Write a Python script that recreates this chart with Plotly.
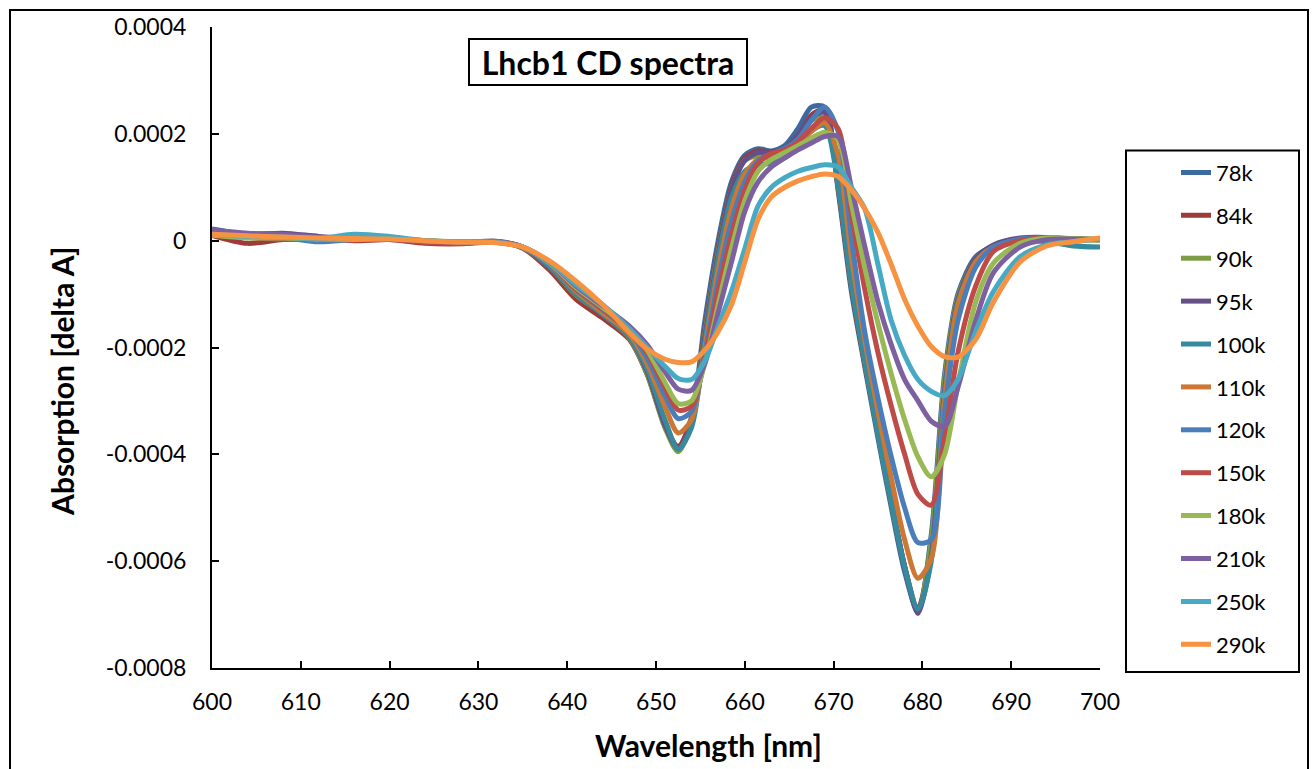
import plotly.graph_objects as go

# Wavelength grid (nm)
wavelength = [600, 604, 608, 612, 616, 620, 624, 628, 632, 635, 638, 641, 644, 647, 649, 651,
              652.5, 654, 655.5, 657, 658.5, 660, 661.5, 663, 664.5, 666, 667.5, 669, 670.5,
              672, 673.5, 675, 676.5, 678, 679.5, 681, 682.5, 684, 686, 688, 691, 694, 697, 700]

# CD signal values in units of 1e-4 (delta A)
s78k = [0.22, 0.12, 0.12, 0.05, 0.04, 0.03, -0.03, -0.03, -0.02, -0.12, -0.5, -1.05, -1.4, -1.8, -2.45, -3.45,
        -3.88, -3.3, -1.5, 0.0, 1.1, 1.6, 1.72, 1.68, 1.78, 2.1, 2.5, 2.5, 0.95,
        -0.95, -2.35, -3.7, -5.0, -6.2, -6.95, -5.5, -2.5, -1.0, -0.3, -0.1, 0.03, 0.05, 0.03, 0.02]
s84k = [0.1, -0.05, 0.02, 0.03, 0.0, 0.02, -0.05, -0.06, -0.02, -0.14, -0.55, -1.1, -1.45, -1.85, -2.5, -3.45,
        -3.85, -3.35, -1.7, -0.15, 1.0, 1.55, 1.68, 1.66, 1.72, 1.95, 2.35, 2.45, 1.0,
        -0.85, -2.3, -3.6, -4.9, -6.1, -6.88, -5.7, -2.7, -1.05, -0.35, -0.1, 0.02, 0.04, 0.02, 0.02]
s90k = [0.15, 0.08, 0.05, 0.04, 0.02, 0.04, 0.0, -0.03, -0.03, -0.13, -0.5, -1.02, -1.38, -1.82, -2.5, -3.5,
        -3.95, -3.4, -1.75, -0.2, 0.95, 1.5, 1.6, 1.62, 1.72, 1.95, 2.25, 2.3, 1.05,
        -0.8, -2.25, -3.6, -4.9, -6.1, -6.92, -5.6, -2.6, -1.05, -0.35, -0.1, 0.03, 0.04, 0.02, 0.01]
s95k = [0.18, 0.12, 0.14, 0.08, 0.04, 0.03, -0.02, -0.04, -0.01, -0.12, -0.5, -1.0, -1.38, -1.8, -2.45, -3.45,
        -3.9, -3.42, -1.8, -0.25, 0.95, 1.5, 1.65, 1.64, 1.72, 1.98, 2.3, 2.4, 1.1,
        -0.75, -2.2, -3.55, -4.85, -6.1, -6.98, -5.9, -2.8, -1.1, -0.35, -0.08, 0.05, 0.06, 0.03, 0.02]
s100k = [0.16, 0.1, 0.08, 0.05, 0.03, 0.04, -0.02, -0.03, -0.02, -0.12, -0.48, -1.0, -1.38, -1.8, -2.4, -3.35,
         -3.9, -3.5, -1.9, -0.35, 0.8, 1.3, 1.42, 1.45, 1.55, 1.75, 2.05, 2.15, 1.05,
         -0.8, -2.25, -3.6, -4.9, -6.1, -6.9, -6.0, -2.9, -1.15, -0.4, -0.12, 0.0, -0.02, -0.1, -0.12]
s110k = [0.14, 0.1, 0.06, 0.05, 0.02, 0.03, -0.01, -0.03, -0.02, -0.12, -0.45, -0.95, -1.35, -1.75, -2.3, -3.1,
         -3.6, -3.35, -2.0, -0.55, 0.6, 1.25, 1.52, 1.56, 1.65, 1.82, 2.05, 2.2, 1.6,
         -0.3, -1.85, -3.2, -4.45, -5.6, -6.32, -5.95, -3.0, -1.2, -0.4, -0.12, 0.02, 0.04, 0.03, 0.02]
s120k = [0.12, 0.08, 0.06, -0.02, 0.02, 0.03, -0.01, -0.04, -0.03, -0.12, -0.45, -0.92, -1.3, -1.7, -2.2, -2.9,
         -3.33, -3.2, -2.1, -0.75, 0.35, 1.1, 1.5, 1.63, 1.72, 1.9, 2.25, 2.5, 2.05,
         0.05, -1.7, -2.95, -4.05, -5.0, -5.65, -5.6, -3.2, -1.5, -0.5, -0.12, 0.03, 0.05, 0.03, 0.02]
s150k = [0.1, 0.06, 0.03, 0.04, 0.01, 0.02, -0.03, -0.05, -0.03, -0.12, -0.42, -0.9, -1.28, -1.68, -2.1, -2.75,
         -3.17, -3.1, -2.2, -0.95, 0.1, 0.95, 1.45, 1.63, 1.7, 1.85, 2.1, 2.3, 2.1,
         0.5, -0.9, -2.1, -3.1, -4.0, -4.75, -4.95, -3.7, -2.1, -0.85, -0.2, 0.0, 0.05, 0.03, 0.02]
s180k = [0.1, 0.05, 0.05, 0.03, 0.02, 0.04, 0.0, -0.02, -0.03, -0.12, -0.42, -0.88, -1.25, -1.65, -2.05, -2.65,
         -3.05, -3.0, -2.3, -1.2, -0.15, 0.75, 1.3, 1.52, 1.65, 1.78, 1.92, 2.03, 1.9,
         0.7, -0.5, -1.55, -2.5, -3.35, -4.05, -4.42, -4.0, -2.7, -1.15, -0.42, -0.05, 0.05, 0.04, 0.03]
s210k = [0.2, 0.14, 0.12, 0.06, 0.05, 0.03, 0.0, -0.03, -0.02, -0.12, -0.4, -0.85, -1.22, -1.6, -1.95, -2.45,
         -2.78, -2.8, -2.3, -1.35, -0.4, 0.55, 1.1, 1.38, 1.55, 1.7, 1.83, 1.95, 1.95,
         1.0, -0.1, -1.15, -1.95, -2.6, -3.0, -3.38, -3.48, -2.75, -1.5, -0.6, -0.12, 0.02, 0.03, 0.02]
s250k = [0.12, 0.08, 0.07, 0.04, 0.12, 0.08, 0.0, -0.02, -0.03, -0.12, -0.4, -0.82, -1.2, -1.65, -2.0, -2.35,
         -2.58, -2.6, -2.25, -1.6, -0.95, -0.15, 0.65, 1.0, 1.18, 1.3, 1.37, 1.42, 1.38,
         1.0, 0.6, -0.45, -1.5, -2.15, -2.6, -2.82, -2.9, -2.6, -1.7, -0.95, -0.3, -0.08, -0.02, 0.03]
s290k = [0.12, 0.09, 0.07, 0.05, 0.04, 0.03, 0.0, -0.03, -0.04, -0.12, -0.38, -0.76, -1.2, -1.72, -2.03, -2.22,
         -2.28, -2.27, -2.05, -1.7, -1.2, -0.4, 0.4, 0.82, 1.0, 1.12, 1.2, 1.25, 1.2,
         0.95, 0.6, 0.15, -0.45, -1.1, -1.6, -1.98, -2.17, -2.18, -1.85, -1.15, -0.4, -0.1, -0.02, 0.05]

series_names = ["78k", "84k", "90k", "95k", "100k", "110k", "120k", "150k", "180k", "210k", "250k", "290k"]
series_values = [s78k, s84k, s90k, s95k, s100k, s110k, s120k, s150k, s180k, s210k, s250k, s290k]
series_colors = ["#3C699E", "#9E3B38", "#7E9B45", "#654F87", "#358A9E", "#CD7734",
                 "#4A7EBB", "#BE4B48", "#98B954", "#7D60A0", "#46AAC5", "#F69240"]

y_tickvals = [0.0004, 0.0002, 0, -0.0002, -0.0004, -0.0006, -0.0008]
y_ticktext = ["0.0004", "0.0002", "0", "-0.0002", "-0.0004", "-0.0006", "-0.0008"]
x_tickvals = [600, 610, 620, 630, 640, 650, 660, 670, 680, 690, 700]

FONT = "Lato"

fig = go.Figure()
for name, vals, col in zip(series_names, series_values, series_colors):
    fig.add_trace(go.Scatter(
        x=wavelength, y=[v * 1e-4 for v in vals], name=name, mode="lines",
        line=dict(color=col, width=5, shape="spline", smoothing=0.8),
        legendgroup=name,
    ))

W, H = 1314, 769
L, R, T, B = 212, 1100, 25, 668

def px(xp):
    return (xp - L) / (R - L)

def py(yp):
    return (B - yp) / (B - T)

fig.update_layout(
    width=W, height=H,
    margin=dict(l=L, r=W - R, t=T, b=H - B),
    paper_bgcolor="white", plot_bgcolor="white",
    font=dict(family=FONT, size=22, color="black"),
    showlegend=True,
    legend=dict(
        x=px(1176), y=py(150), xanchor="left", yanchor="top",
        bgcolor="rgba(0,0,0,0)", borderwidth=0,
        font=dict(family=FONT, size=22, color="black"),
        tracegroupgap=11.3,
    ),
    xaxis=dict(
        range=[600, 700], tickvals=x_tickvals, ticks="inside", ticklen=7, tickwidth=2,
        tickcolor="black", showline=True, linecolor="black", linewidth=2,
        showgrid=False, zeroline=False, tickfont=dict(family=FONT, size=23),
        ticklabelstandoff=12,
    ),
    yaxis=dict(
        range=[-0.0008, 0.0004], tickvals=y_tickvals, ticktext=y_ticktext, ticks="inside",
        ticklen=7, tickwidth=2, tickcolor="black", showline=True, linecolor="black",
        linewidth=2, showgrid=False, zeroline=False, tickfont=dict(family=FONT, size=23),
        ticklabelstandoff=19,
    ),
    shapes=[
        # outer chart border
        dict(type="rect", xref="paper", yref="paper", x0=px(10), x1=px(1308), y0=py(790), y1=py(8),
             line=dict(color="black", width=2), fillcolor="rgba(0,0,0,0)", layer="below"),
        # legend box
        dict(type="rect", xref="paper", yref="paper", x0=px(1126), x1=px(1299), y0=py(672), y1=py(149),
             line=dict(color="black", width=2), fillcolor="rgba(0,0,0,0)"),
    ],
    annotations=[
        dict(text="<b>Lhcb1 CD spectra</b>", xref="paper", yref="paper", x=px(608), y=py(60),
             xanchor="center", yanchor="middle", showarrow=False,
             font=dict(family=FONT, size=32, color="black"), width=272, height=40,
             bordercolor="black", borderwidth=2, borderpad=2, bgcolor="white"),
        dict(text="<b>Wavelength [nm]</b>", xref="paper", yref="paper", x=px(708), y=py(745),
             xanchor="center", yanchor="middle", showarrow=False,
             font=dict(family=FONT, size=30, color="black")),
        dict(text="<b>Absorption [delta A]</b>", xref="paper", yref="paper", x=px(62), y=py(381),
             xanchor="center", yanchor="middle", showarrow=False, textangle=-90,
             font=dict(family=FONT, size=30, color="black")),
    ],
)

fig.write_html("out.html")
